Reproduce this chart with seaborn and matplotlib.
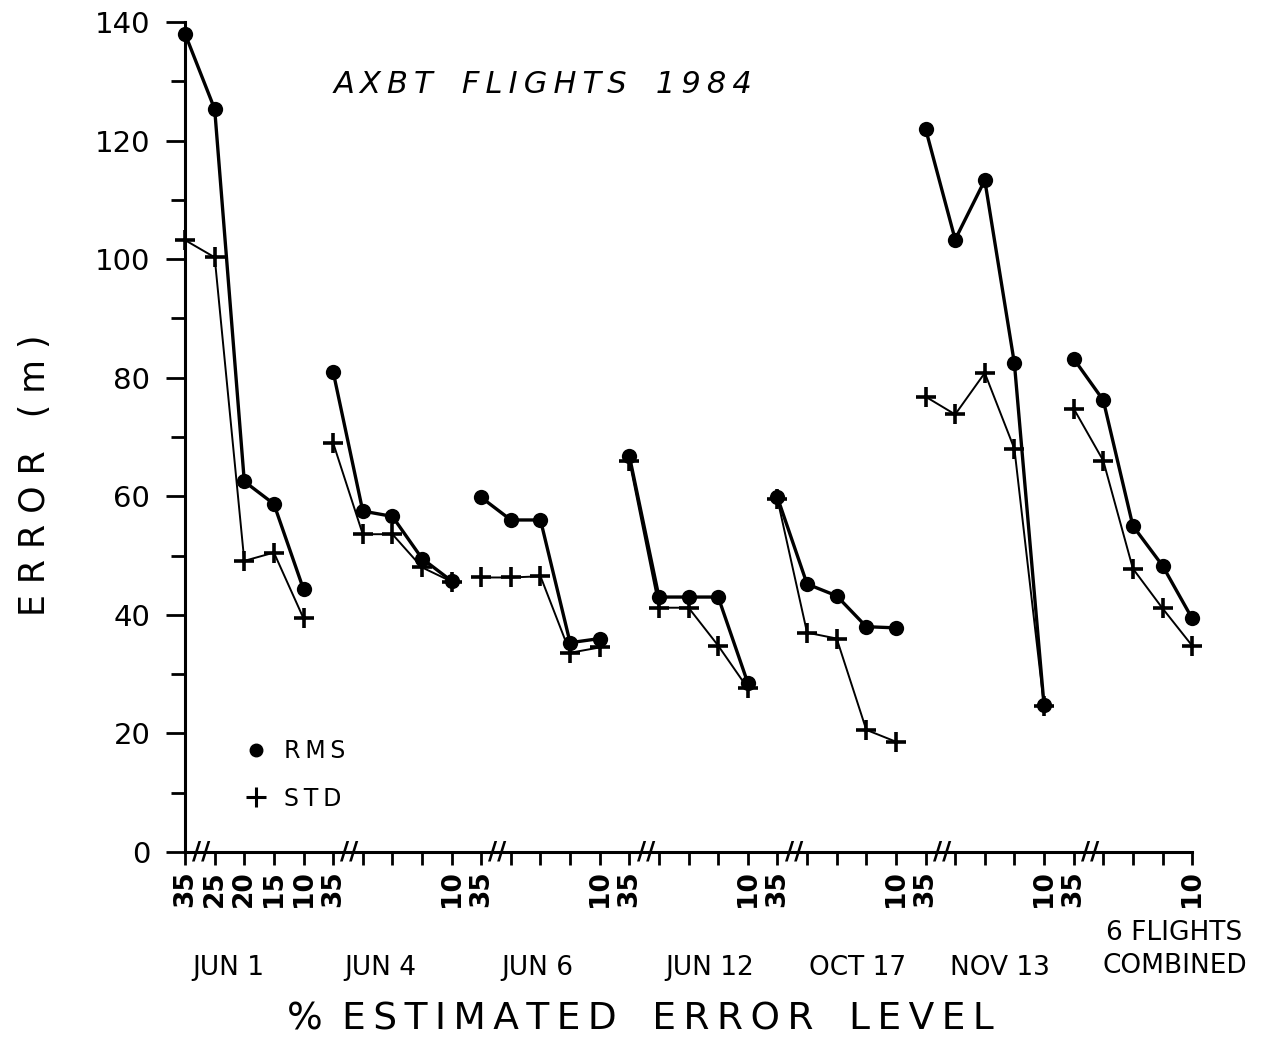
import pandas as pd
import seaborn as sns
import matplotlib.pyplot as plt
import matplotlib.transforms as mtrans
from matplotlib.lines import Line2D

# flights and estimated error levels (%)
flights = ["JUN 1", "JUN 4", "JUN 6", "JUN 12", "OCT 17", "NOV 13", "6 FLIGHTS\nCOMBINED"]
levels = [35, 25, 20, 15, 10]

# error (m), one row per flight, columns follow `levels`
rms = [
    [138.0, 125.3, 62.5, 58.7, 44.3],
    [81.0, 57.5, 56.6, 49.5, 45.7],
    [59.8, 56.0, 56.0, 35.3, 36.0],
    [66.8, 43.0, 43.0, 43.0, 28.5],
    [59.8, 45.2, 43.2, 38.0, 37.8],
    [122.0, 103.3, 113.3, 82.4, 24.8],
    [83.2, 76.2, 55.0, 48.3, 39.4],
]
std = [
    [103.2, 100.3, 49.1, 50.5, 39.4],
    [69.0, 53.6, 53.6, 48.0, 45.6],
    [46.3, 46.3, 46.5, 33.6, 34.5],
    [66.0, 41.2, 41.2, 34.8, 27.6],
    [59.5, 37.0, 36.0, 20.6, 18.6],
    [76.8, 73.8, 80.8, 68.0, 24.6],
    [74.8, 66.0, 47.8, 41.1, 34.8],
]

# long table: each flight gets its own run of x positions
rows = []
for fi, name in enumerate(flights):
    for li, lev in enumerate(levels):
        pos = fi * len(levels) + li
        rows.append(dict(flight=name, level=lev, pos=pos, stat="RMS", err=rms[fi][li]))
        rows.append(dict(flight=name, level=lev, pos=pos, stat="STD", err=std[fi][li]))
df = pd.DataFrame(rows)

sns.set_theme(style="ticks")
plt.rcParams["font.family"] = ["DejaVu Sans"]
for k in ["text.color", "axes.labelcolor", "xtick.color", "ytick.color", "axes.edgecolor"]:
    plt.rcParams[k] = "black"

fig = plt.figure(figsize=(12.86, 10.45), dpi=100)
ax = fig.add_axes([0.1439, 0.1847, 0.7831, 0.7943])

sns.lineplot(data=df[df.stat == "STD"], x="pos", y="err", units="flight", estimator=None,
             color="black", linewidth=1.4, marker="+", markersize=15, markeredgewidth=2.6,
             markeredgecolor="black", clip_on=False, ax=ax)
sns.lineplot(data=df[df.stat == "RMS"], x="pos", y="err", units="flight", estimator=None,
             color="black", linewidth=2.4, marker="o", markersize=11, markeredgewidth=0,
             clip_on=False, ax=ax)

npos = len(flights) * len(levels)
ax.set_xlim(0, npos - 1)
ax.set_ylim(0, 140)

# y axis
ax.set_yticks(range(0, 141, 20))
ax.set_yticks(range(10, 140, 20), minor=True)
ax.tick_params(axis="y", which="major", length=14, width=2, labelsize=21, pad=11, direction="out")
ax.tick_params(axis="y", which="minor", length=10, width=2, direction="out")

# x axis: tick at every level, labels only at the ends of each run (all of them for JUN 1)
xt = list(range(npos))
xl = []
for fi in range(len(flights)):
    for li, lev in enumerate(levels):
        if fi == 0 or li in (0, len(levels) - 1):
            xl.append(str(lev))
        else:
            xl.append("")
ax.set_xticks(xt)
ax.set_xticklabels(xl, rotation=90, fontweight="bold", fontsize=19)
ax.tick_params(axis="x", length=9, width=2, pad=4, direction="out")

for s in ["top", "right"]:
    ax.spines[s].set_visible(False)
for s in ["left", "bottom"]:
    ax.spines[s].set_linewidth(2.2)

ax.set_xlabel("")
ax.set_ylabel("")

# axis break marks just after each flight's first level
for fi in range(len(flights)):
    ax.text(fi * len(levels) + 0.55, 0, "//", ha="center", va="center",
            fontsize=18, fontweight="bold", clip_on=False)

# flight names under the tick labels
group_label_x = [1.45, 6.6, 11.9, 17.7, 22.7, 27.5, 33.4]
trans = mtrans.blended_transform_factory(ax.transData, fig.transFigure)
for name, gx in zip(flights, group_label_x):
    gy = 0.091 if "\n" in name else 0.0737
    ax.text(gx, gy, name, transform=trans, ha="center", va="center",
            fontsize=19, linespacing=1.35, multialignment="center")

ts = "\u2009"
fig.text(0.422, 0.919, ts.join("AXBT") + "   " + ts.join("FLIGHTS") + "   " + ts.join("1984"),
         ha="center", va="center", fontsize=22, fontstyle="italic")
fig.text(0.498, 0.024, "%" + ts + " " + ts.join("ESTIMATED") + "   " + ts.join("ERROR") + "   " + ts.join("LEVEL"),
         ha="center", va="center", fontsize=27)
fig.text(0.027, 0.545, "E R R O R   ( m )", rotation=90, ha="center", va="center", fontsize=25)

handles = [
    Line2D([], [], color="black", linestyle="none", marker="o", markersize=9),
    Line2D([], [], color="black", linestyle="none", marker="+", markersize=14, markeredgewidth=2.2),
]
ax.legend(handles, [ts.join("RMS"), ts.join("STD")], loc="center left", bbox_to_anchor=(0.035, 0.093),
          frameon=False, fontsize=17, handlelength=1.2, handletextpad=0.6, labelspacing=1.0)

fig.savefig("out.png", dpi=100)
